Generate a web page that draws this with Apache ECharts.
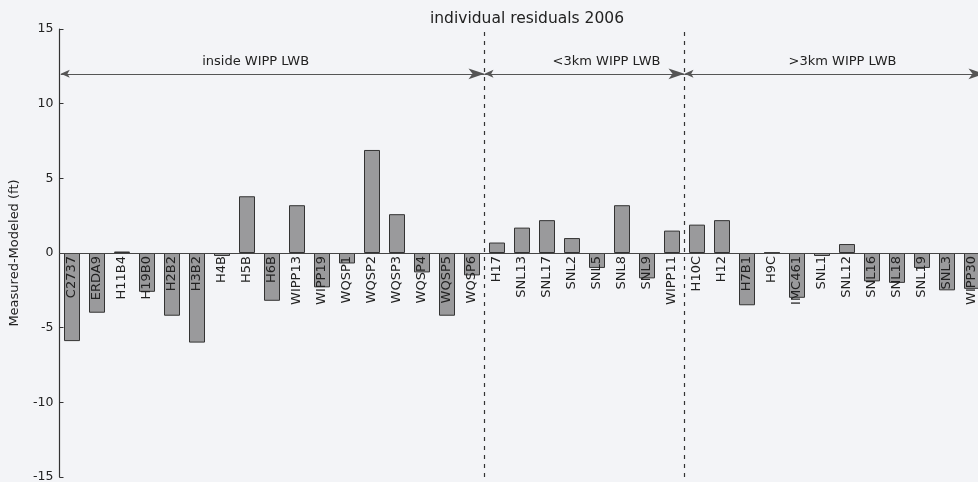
<!DOCTYPE html>
<html>
<head>
<meta charset="utf-8">
<script src="https://cdn.jsdelivr.net/npm/echarts@6/dist/echarts.min.js"></script>
<style>
html,body{margin:0;padding:0;background:#f3f4f7;}
#chart{width:978px;height:482px;}
</style>
</head>
<body>
<div id="chart"></div>
<script>
// ---- data ----
var titleText = 'individual residuals 2006';
var yAxisName = 'Measured-Modeled (ft)';
var wells = ['C2737','ERDA9','H11B4','H19B0','H2B2','H3B2','H4B','H5B','H6B','WIPP13','WIPP19','WQSP1','WQSP2','WQSP3','WQSP4','WQSP5','WQSP6',
             'H17','SNL13','SNL17','SNL2','SNL5','SNL8','SNL9','WIPP11',
             'H10C','H12','H7B1','H9C','IMC461','SNL1','SNL12','SNL16','SNL18','SNL19','SNL3','WIPP30'];
var residuals = [-5.9,-4.0,0.1,-2.6,-4.2,-6.0,-0.2,3.8,-3.2,3.2,-2.3,-0.7,6.9,2.6,-1.3,-4.2,-1.5,
                 0.7,1.7,2.2,1.0,-1.0,3.2,-1.7,1.5,
                 1.9,2.2,-3.5,0.03,-3.0,-0.2,0.6,-1.9,-2.0,-1.0,-2.5,-2.4];
var groupNames = ['inside WIPP LWB','<3km WIPP LWB','>3km WIPP LWB'];
var groupBounds = [[-0.45,16.5],[16.5,24.5],[24.5,36.5]];
var dividers = [16.5, 24.5];
var arrowLevel = 12;
var yTicks = {min:-15, max:15, interval:5};

var labelOffsets = [-17, 22, 8];

var markData = [];
dividers.forEach(function(d){
  markData.push({xAxis: d, symbol:'none',
    lineStyle:{type:[4,5], color:'#333', width:1.2}, label:{show:false}});
});
groupNames.forEach(function(n,i){
  markData.push([
    {coord:[groupBounds[i][0], arrowLevel], symbol:'arrow', symbolSize:[6,9],
     lineStyle:{type:'solid', color:'#555', width:1},
     label:{show:true, formatter:n, position:'middle', color:'#222', fontSize:13,
            fontFamily:'DejaVu Sans', distance:6, offset:[labelOffsets[i],0]}},
    {coord:[groupBounds[i][1], arrowLevel], symbol:'arrow'}
  ]);
});

var gridTop = 29, gridBottom = 5, chartH = 482;
var gridH = chartH - gridTop - gridBottom;
var zeroOffset = -gridH * (0 - yTicks.min) / (yTicks.max - yTicks.min);

var chart = echarts.init(document.getElementById('chart'));
chart.setOption({
  backgroundColor:'#f3f4f7',
  animation:false,
  title:{text:titleText, left:522, top:6, textAlign:'center',
    textStyle:{fontFamily:'DejaVu Sans', fontSize:15.5, fontWeight:'normal', color:'#222'}},
  grid:{left:59.5, top:gridTop, bottom:gridBottom, width:925, containLabel:false, outerBoundsMode:'none'},
  xAxis:[{type:'category', data:wells, z:5, position:'bottom', offset:zeroOffset,
    axisLine:{onZero:false, lineStyle:{color:'#444', width:1}},
    axisTick:{alignWithLabel:true, inside:true, length:3, lineStyle:{color:'#444'}},
    axisLabel:{rotate:90, interval:0, margin:3, fontSize:13, fontFamily:'DejaVu Sans', color:'#222'},
    splitLine:{show:false}},
    {type:'value', min:-0.5, max:wells.length-0.5, show:false, position:'top',
     axisLine:{show:false}, axisLabel:{show:false}, axisTick:{show:false}, splitLine:{show:false}}],
  yAxis:{type:'value', min:yTicks.min, max:yTicks.max, interval:yTicks.interval,
    name:yAxisName, nameLocation:'middle', nameGap:38, nameRotate:90,
    nameTextStyle:{fontFamily:'DejaVu Sans', fontSize:13, color:'#222'},
    axisLine:{show:true, onZero:false, lineStyle:{color:'#333', width:1.2}},
    axisTick:{show:true, inside:true, length:4, lineStyle:{color:'#333'}},
    axisLabel:{fontFamily:'DejaVu Sans', fontSize:12.5, color:'#222', margin:6},
    splitLine:{show:false}},
  series:[{
    type:'bar', data:residuals, barWidth:16, xAxisIndex:0,
    itemStyle:{color:'#9a9a9c', borderColor:'#333', borderWidth:1}
  },{
    type:'line', xAxisIndex:1, data:[[-0.5,0]], symbol:'none', lineStyle:{opacity:0},
    silent:true,
    markLine:{silent:true, symbol:'none', precision:4, data:markData, animation:false}
  }]
});
</script>
</body>
</html>
